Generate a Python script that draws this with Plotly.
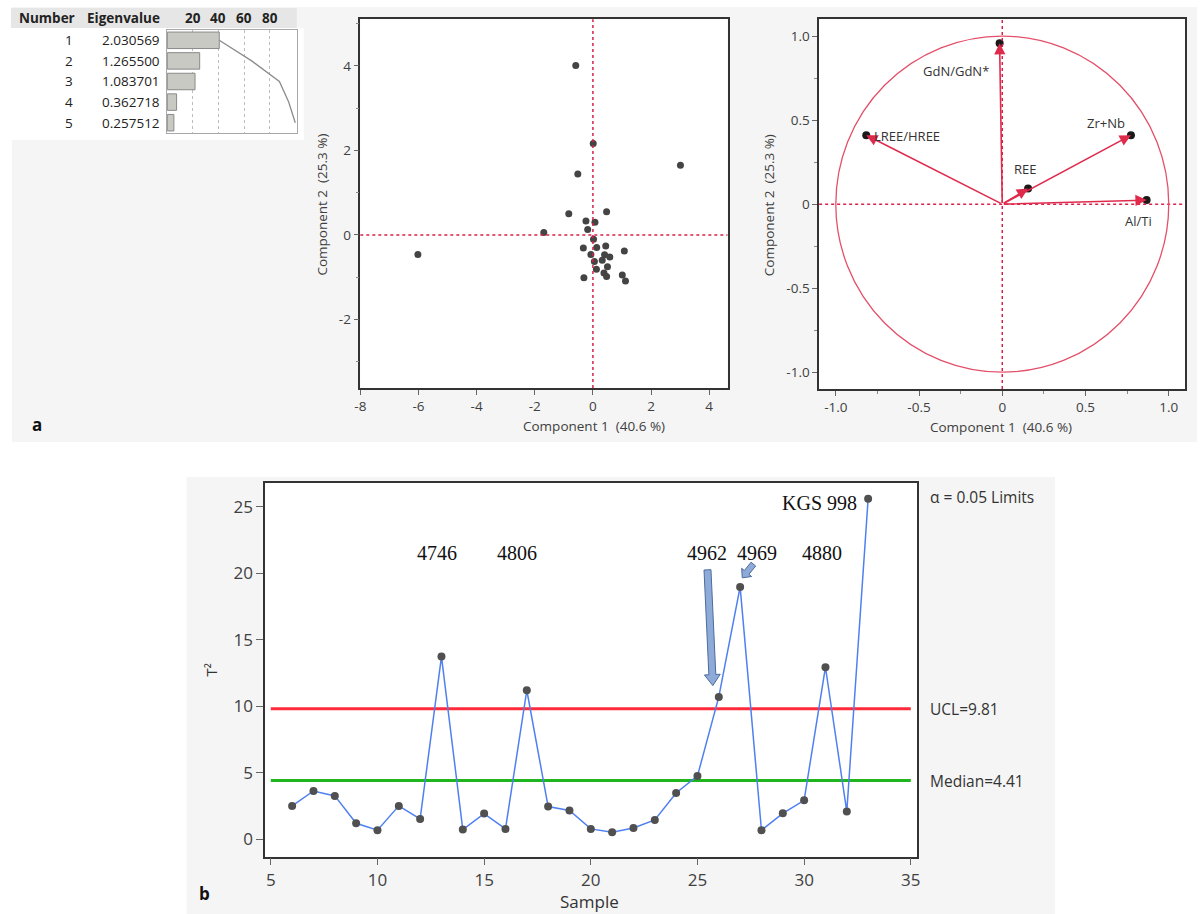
import math
import numpy as np
import plotly.graph_objects as go

W, H = 1200, 914

# ---------------- data ----------------
pc_numbers = [1, 2, 3, 4, 5]
eigenvalues = [2.030569, 1.265500, 1.083701, 0.362718, 0.257512]
pct_ticks = [20, 40, 60, 80]

score_c1 = [-0.59, 0.01, 3.01, -0.52, -0.83, 0.47, -0.24, 0.07, -0.18, -1.69,
            0.02, -0.33, 0.13, 0.44, 1.08, -0.07, 0.40, 0.58, 0.05, 0.32,
            0.50, 0.12, -0.31, 0.38, 0.47, 1.01, 1.12, -6.02]
score_c2 = [4.01, 2.16, 1.65, 1.44, 0.50, 0.55, 0.33, 0.30, 0.13, 0.06,
            -0.10, -0.31, -0.30, -0.26, -0.38, -0.46, -0.47, -0.52, -0.63, -0.60,
            -0.75, -0.81, -1.01, -0.90, -0.98, -0.95, -1.09, -0.46]
score_xticks = [-8, -6, -4, -2, 0, 2, 4]
score_yticks = [-2, 0, 2, 4]

load_names = ["GdN/GdN*", "LREE/HREE", "Zr+Nb", "REE", "Al/Ti"]
load_c1 = [-0.016, -0.817, 0.773, 0.155, 0.867]
load_c2 = [0.958, 0.410, 0.410, 0.093, 0.024]
load_label_x = [-0.28, -0.57, 0.624, 0.135, 0.817]
load_label_y = [0.79, 0.408, 0.485, 0.209, -0.10]
load_ticks = [-1, -0.5, 0, 0.5, 1]
load_ticktext = ["-1.0", "-0.5", "0", "0.5", "1.0"]

samples = list(range(6, 34))
t2 = [2.51, 3.63, 3.26, 1.20, 0.68, 2.51, 1.53, 13.73, 0.73, 1.93,
      0.78, 11.20, 2.46, 2.16, 0.78, 0.53, 0.85, 1.45, 3.48, 4.76,
      10.70, 18.97, 0.68, 1.95, 2.93, 12.93, 2.08, 25.59]
ucl = 9.81
median = 4.41
sample_labels = ["4746", "4806", "4962", "4969", "4880", "KGS 998"]
sample_label_x = [12.78, 16.55, 25.47, 27.79, 30.86, 30.70]
sample_label_y = [21.5, 21.5, 21.5, 21.5, 21.5, 25.26]

# ---------------- helpers ----------------
def px(x):
    return x / W

def py(y):
    return 1 - y / H

UI = "Open Sans"
SERIF = "Liberation Serif"
TXT = "#404040"
RED = "#e02a4c"
DOT_RED = "#d8204a"

fig = go.Figure()

# plot-area pixel boxes (left, top, right, bottom)
BOX1 = (357, 19.3, 727, 388)
BOX2 = (819.3, 19.3, 1188.3, 389)
BOX3 = (261, 482.7, 918.3, 856.7)
BOX4 = (162, 30, 293, 133)

# ---------- panel backgrounds ----------
shapes = []
shapes.append(dict(type="rect", xref="paper", yref="paper", x0=px(6), x1=px(1200),
                   y0=py(442), y1=py(7), fillcolor="#f5f5f5", line_width=0, layer="below"))
shapes.append(dict(type="rect", xref="paper", yref="paper", x0=px(5), x1=px(300),
                   y0=py(140), y1=py(28), fillcolor="#ffffff", line_width=0, layer="below"))
shapes.append(dict(type="rect", xref="paper", yref="paper", x0=px(5), x1=px(293),
                   y0=py(28), y1=py(8), fillcolor="#e6e6e6", line_width=0, layer="below"))
shapes.append(dict(type="rect", xref="paper", yref="paper", x0=px(182), x1=px(1057),
                   y0=py(914), y1=py(477), fillcolor="#f5f5f5", line_width=0, layer="below"))
for b in (BOX1, BOX2, BOX3, BOX4):
    shapes.append(dict(type="rect", xref="paper", yref="paper", x0=px(b[0]), x1=px(b[2]),
                       y0=py(b[3]), y1=py(b[1]), fillcolor="#ffffff", line_width=0,
                       layer="below"))

# ---------- eigenvalue bars (x4/y4) ----------
pct = [e / sum(eigenvalues) * 100 for e in eigenvalues]
cum = list(np.cumsum(pct))
fig.add_trace(go.Bar(x=pct, y=list(range(len(pct))), orientation="h", width=0.8,
                     marker=dict(color="#c9c9c3", line=dict(color="#8a8a8a", width=1)),
                     xaxis="x4", yaxis="y4", showlegend=False, hoverinfo="skip"))
fig.add_trace(go.Scatter(x=cum, y=list(range(len(cum))), mode="lines",
                         line=dict(color="#8c8c8c", width=1.3),
                         xaxis="x4", yaxis="y4", showlegend=False, hoverinfo="skip"))

# ---------- score scatter (x/y) ----------
fig.add_trace(go.Scatter(x=score_c1, y=score_c2, mode="markers",
                         marker=dict(color="#444444", size=7),
                         xaxis="x", yaxis="y", showlegend=False))

# ---------- loadings (x2/y2) ----------
fig.add_trace(go.Scatter(x=load_c1, y=load_c2, mode="markers",
                         marker=dict(color="#1a1a1a", size=8),
                         xaxis="x2", yaxis="y2", showlegend=False))

# ---------- T2 chart (x3/y3) ----------
fig.add_trace(go.Scatter(x=[5, 35], y=[ucl, ucl], mode="lines",
                         line=dict(color="#ff2a3a", width=3),
                         xaxis="x3", yaxis="y3", showlegend=False, hoverinfo="skip"))
fig.add_trace(go.Scatter(x=[5, 35], y=[median, median], mode="lines",
                         line=dict(color="#1fb51f", width=3),
                         xaxis="x3", yaxis="y3", showlegend=False, hoverinfo="skip"))
fig.add_trace(go.Scatter(x=samples, y=t2, mode="lines+markers",
                         line=dict(color="#4f80f0", width=1.5),
                         marker=dict(color="#505050", size=8),
                         xaxis="x3", yaxis="y3", showlegend=False))

# crosshairs
for xa, ya in (("x", "y"), ("x2", "y2")):
    shapes.append(dict(type="line", xref=xa, yref=ya + " domain", x0=0, x1=0, y0=0, y1=1,
                       line=dict(color=DOT_RED, width=1.5, dash="dot")))
    shapes.append(dict(type="line", xref=xa + " domain", yref=ya, x0=0, x1=1, y0=0, y1=0,
                       line=dict(color=DOT_RED, width=1.5, dash="dot")))
shapes.append(dict(type="circle", xref="x2", yref="y2", x0=-1, x1=1, y0=-1, y1=1,
                   line=dict(color="#e4506a", width=1.3)))

# block arrows for T2 chart
X3_RANGE = (4.73, 35.31)
Y3_RANGE = (-1.31, 26.8)
sx = (BOX3[2] - BOX3[0]) / (X3_RANGE[1] - X3_RANGE[0])
sy = (BOX3[3] - BOX3[1]) / (Y3_RANGE[1] - Y3_RANGE[0])

def block_arrow(x0, y0, x1, y1, shaft, headw, headl):
    p0 = np.array([x0 * sx, y0 * sy])
    p1 = np.array([x1 * sx, y1 * sy])
    d = p1 - p0
    u = d / np.linalg.norm(d)
    n = np.array([-u[1], u[0]])
    neck = p1 - u * headl
    pts = [p0 + n * shaft / 2, neck + n * shaft / 2, neck + n * headw / 2, p1,
           neck - n * headw / 2, neck - n * shaft / 2, p0 - n * shaft / 2]
    path = "M " + " L ".join(f"{p[0] / sx:.4f},{p[1] / sy:.4f}" for p in pts) + " Z"
    return dict(type="path", xref="x3", yref="y3", path=path,
                fillcolor="#8eaad8", line=dict(color="#4d6c9c", width=1))

shapes.append(block_arrow(25.47, 20.25, 25.72, 11.55, 7, 16, 11))
shapes.append(block_arrow(27.62, 20.68, 27.10, 19.65, 6, 13, 7))

# ---------- annotations ----------
ann = []

def text(t, x, y, xref="paper", yref="paper", xanchor="center", size=13.5, color="#222",
         family=UI, angle=0):
    return dict(text=t, x=x, y=y, xref=xref, yref=yref, xanchor=xanchor, yanchor="middle",
                showarrow=False, textangle=angle, font=dict(family=family, size=size, color=color))

# table header
ann.append(text("<b>Number</b>", px(72), py(18), xanchor="right"))
ann.append(text("<b>Eigenvalue</b>", px(157), py(18), xanchor="right"))
for t in pct_ticks:
    ann.append(text(f"<b>{t}</b>", t, py(18), xref="x4"))
for i, (n, e) in enumerate(zip(pc_numbers, eigenvalues)):
    ann.append(text(str(n), px(70), i, yref="y4", xanchor="right"))
    ann.append(text(f"{e:.6f}", px(157), i, yref="y4", xanchor="right"))

# loadings arrows and labels
for name, lx, ly, tx, ty in zip(load_names, load_c1, load_c2, load_label_x, load_label_y):
    ann.append(dict(x=lx, y=ly, ax=0, ay=0, xref="x2", yref="y2", axref="x2", ayref="y2",
                    text="", showarrow=True, arrowhead=2, arrowsize=1.4, arrowwidth=1.6,
                    arrowcolor=RED, standoff=0))
    ann.append(text(name, tx, ty, xref="x2", yref="y2", size=13, color="#333"))

# axis titles
ann.append(text("Component 1  (40.6 %)", px(592), py(426), color=TXT))
ann.append(text("Component 2  (25.3 %)", px(318), py(205), color=TXT, angle=-90))
ann.append(text("Component 1  (40.6 %)", px(1003), py(427), color=TXT))
ann.append(text("Component 2  (25.3 %)", px(769), py(205), color=TXT, angle=-90))
ann.append(text("T²", px(207), py(670), size=15, color="#333", angle=-90))
ann.append(text("Sample", px(588), py(901), size=17, color="#333"))

# panel letters
ann.append(text("<b>a</b>", px(31), py(424), size=17, color="#111"))
ann.append(text("<b>b</b>", px(200), py(893), size=17, color="#111"))

# limit labels
ann.append(text("α = 0.05 Limits", px(929), py(497), xanchor="left", size=15.5, color="#333"))
ann.append(text(f"UCL={ucl}", px(929), ucl, yref="y3", xanchor="left", size=15.5, color="#333"))
ann.append(text(f"Median={median}", px(929), median, yref="y3", xanchor="left", size=15.5,
                color="#333"))

# sample labels
for t, x, y in zip(sample_labels, sample_label_x, sample_label_y):
    ann.append(text(t, x, y, xref="x3", yref="y3", size=20, color="#111", family=SERIF))

# ---------- axes ----------
frame = dict(showline=True, mirror=True, linecolor="#333333", linewidth=1.5,
             showgrid=False, zeroline=False, ticks="outside", tickcolor="#666",
             ticklen=5, tickfont=dict(family=UI, size=13.5, color=TXT))
big = {**frame, "ticklen": 7, "tickfont": dict(family=UI, size=17, color=TXT)}

layout_axes = dict(
    xaxis=dict(domain=[px(BOX1[0]), px(BOX1[2])], range=[-8, 4.63], anchor="y",
               tickvals=score_xticks, ticktext=[str(v) for v in score_xticks], **frame),
    yaxis=dict(domain=[py(BOX1[3]), py(BOX1[1])], range=[-3.62, 5.10], anchor="x",
               tickvals=score_yticks, ticktext=[str(v) for v in score_yticks],
               minor=dict(ticks="outside", ticklen=3, dtick=1, tickcolor="#888"), **frame),
    xaxis2=dict(domain=[px(BOX2[0]), px(BOX2[2])], range=[-1.1, 1.1], anchor="y2",
                tickvals=load_ticks, ticktext=load_ticktext,
                minor=dict(ticks="outside", ticklen=3, dtick=0.25, tickcolor="#888"), **frame),
    yaxis2=dict(domain=[py(BOX2[3]), py(BOX2[1])], range=[-1.1, 1.1], anchor="x2",
                tickvals=load_ticks, ticktext=load_ticktext,
                minor=dict(ticks="outside", ticklen=3, dtick=0.25, tickcolor="#888"), **frame),
    xaxis3=dict(domain=[px(BOX3[0]), px(BOX3[2])], range=list(X3_RANGE), anchor="y3",
                tickvals=[5, 10, 15, 20, 25, 30, 35], **big),
    yaxis3=dict(domain=[py(BOX3[3]), py(BOX3[1])], range=list(Y3_RANGE), anchor="x3",
                tickvals=[0, 5, 10, 15, 20, 25], **big),
    xaxis4=dict(domain=[px(BOX4[0]), px(BOX4[2])], range=[-0.4, 101.2], anchor="y4",
                showline=True, mirror=True, linecolor="#a8a8a8", linewidth=1.2,
                showgrid=True, gridcolor="#bdbdbd", griddash="dot", gridwidth=1,
                tickvals=pct_ticks, showticklabels=False, ticks="", zeroline=False),
    yaxis4=dict(domain=[py(BOX4[3]), py(BOX4[1])], range=[4.5, -0.5], anchor="x4",
                showline=True, mirror=True, linecolor="#a8a8a8", linewidth=1.2,
                showgrid=False, showticklabels=False, ticks="", zeroline=False),
)

fig.update_layout(
    width=W, height=H, margin=dict(l=0, r=0, t=0, b=0),
    paper_bgcolor="#ffffff", plot_bgcolor="#ffffff",
    shapes=shapes, annotations=ann, showlegend=False, bargap=0.2,
    font=dict(family=UI, color=TXT),
    **layout_axes,
)

fig.write_html("out.html")
